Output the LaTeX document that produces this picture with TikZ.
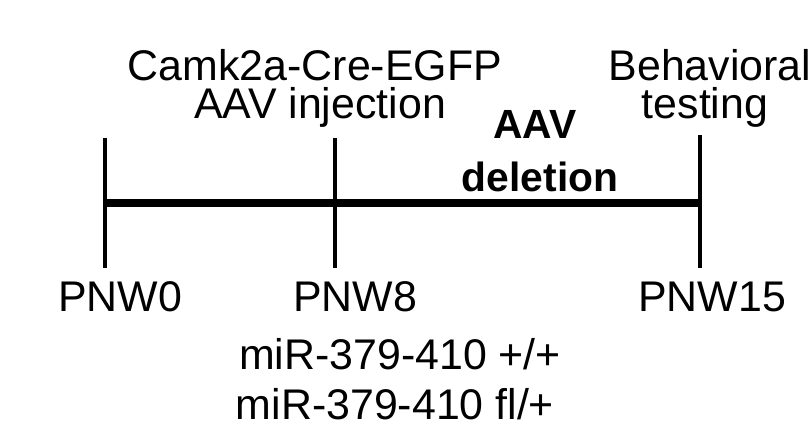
\documentclass[tikz,border=0pt]{standalone}
\usepackage{fontspec}
\setmainfont{Liberation Sans}
\tikzset{
  lbl/.style={font=\fontsize{30.5}{36}\selectfont, inner sep=0pt},
  tick/.style={line width=3pt},
  axis/.style={line width=6pt}
}
\begin{document}
\begin{tikzpicture}[x=0.025cm, y=-0.025cm]
\useasboundingbox (0,0) rectangle (811,442);
% time line
\coordinate (start) at (105,203);
\coordinate (stop) at (700,203);
\coordinate (t0top) at (105,138);
\coordinate (t0bot) at (105,268);
\coordinate (t8top) at (335,138);
\coordinate (t8bot) at (335,268);
\coordinate (t15top) at (700,135);
\coordinate (t15bot) at (700,268);
\draw[axis] (start) -- (stop);
\draw[tick] (t0top) -- (t0bot);
\draw[tick] (t8top) -- (t8bot);
\draw[tick] (t15top) -- (t15bot);
% labels
\node[lbl] (cre) at (315,65) {Camk2a-Cre-EGFP};
\node[lbl] (inj) at (320,107) {AAV injection};
\node[lbl] (beh) at (710,65) {Behavioral};
\node[lbl] (test) at (705,107) {testing};
\node[lbl,font=\fontsize{29}{34}\selectfont\bfseries] (aav) at (535,124) {AAV};
\node[lbl,font=\fontsize{29}{34}\selectfont\bfseries] (del) at (540,177) {deletion};
\node[lbl] (w0) at (120,297) {PNW0};
\node[lbl] (w8) at (355,297) {PNW8};
\node[lbl] (w15) at (712,297) {PNW15};
\node[lbl] (wt) at (400,354) {miR-379-410 +/+};
\node[lbl] (fl) at (395,404) {miR-379-410 fl/+};
\end{tikzpicture}
\end{document}
